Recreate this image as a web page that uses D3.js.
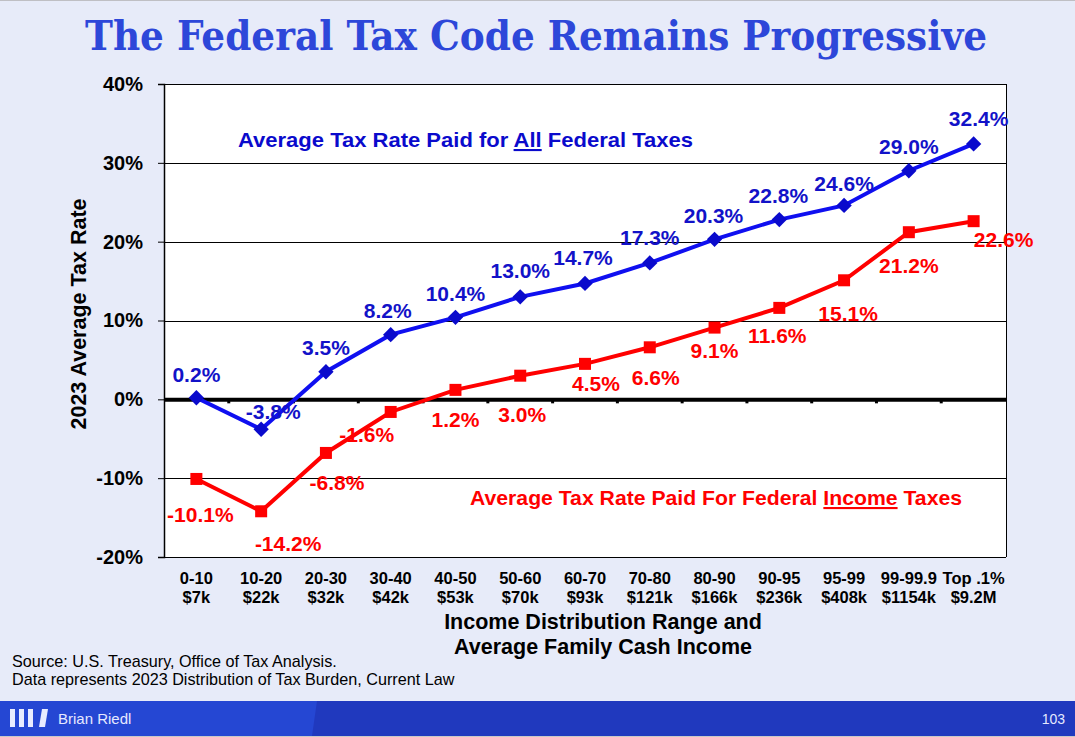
<!DOCTYPE html>
<html><head><meta charset="utf-8">
<script src="https://cdn.jsdelivr.net/npm/d3@7"></script>
<style>
html,body{margin:0;padding:0;background:#E7EBF9;}
svg{display:block;font-family:"Liberation Sans",Arial,sans-serif;}
</style></head>
<body>
<script>
// ---- data ----
const categories = ["0-10","10-20","20-30","30-40","40-50","50-60","60-70","70-80","80-90","90-95","95-99","99-99.9","Top .1%"];
const incomes = ["$7k","$22k","$32k","$42k","$53k","$70k","$93k","$121k","$166k","$236k","$408k","$1154k","$9.2M"];
const allFederalRates = [0.2,-3.8,3.5,8.2,10.4,13.0,14.7,17.3,20.3,22.8,24.6,29.0,32.4];
const incomeTaxRates = [-10.1,-14.2,-6.8,-1.6,1.2,3.0,4.5,6.6,9.1,11.6,15.1,21.2,22.6];
const yTicks = [-20,-10,0,10,20,30,40];

// ---- layout (label nudges, in px) ----
const blueNudge = [[0,-23],[12,-18],[0,-24],[-3,-24],[0,-24],[0,-26],[-2,-26],[0,-25],[-1,-24],[-1,-24],[0,-22],[0,-24],[5,-25]];
const redNudge = [[4,36],[27,32],[11,30],[-24,23],[0,30],[2,39],[11,20],[6,30],[0,23],[-2,28],[4,33],[0,33],[30,18]];

const W=1075,H=737;
const px0=164,px1=1006,py0=84,py1=557;
const svg=d3.select("body").append("svg").attr("width",W).attr("height",H);

svg.append("rect").attr("width",W).attr("height",H).attr("fill","#E7EBF9");
svg.append("line").attr("x1",0).attr("x2",W).attr("y1",0.5).attr("y2",0.5).attr("stroke","#bfbfc4");

// title
svg.append("text").attr("x",536).attr("y",50).attr("text-anchor","middle")
  .attr("textLength",902).attr("lengthAdjust","spacingAndGlyphs")
  .style("font-family","'DejaVu Serif Condensed','DejaVu Serif',serif").style("font-stretch","condensed")
  .style("font-weight","bold").style("font-size","41px").attr("fill","#2D47D9")
  .text("The Federal Tax Code Remains Progressive");

const x=d3.scaleBand().domain(categories).range([px0,px1]).padding(0);
const y=d3.scaleLinear().domain([-20,40]).range([py1,py0]);
const cx=d=>x(d)+x.bandwidth()/2;

// plot area
svg.append("rect").attr("x",px0).attr("y",py0).attr("width",px1-px0).attr("height",py1-py0).attr("fill","#fff");

// grid
svg.append("g").selectAll("line").data(yTicks.filter(t=>t!==0)).join("line")
  .attr("x1",px0).attr("x2",px1).attr("y1",d=>Math.round(y(d))+0.5).attr("y2",d=>Math.round(y(d))+0.5)
  .attr("stroke","#000").attr("stroke-width",1);
svg.append("line").attr("x1",px1+0.5).attr("x2",px1+0.5).attr("y1",py0).attr("y2",py1).attr("stroke","#000");

// y axis
const yAxis=svg.append("g").attr("transform",`translate(${px0},0)`)
  .call(d3.axisLeft(y).tickValues(yTicks).tickSize(6).tickPadding(15).tickFormat(d=>d+"%"));
yAxis.select(".domain").attr("stroke","#000").attr("stroke-width",1.5);
yAxis.selectAll(".tick line").attr("stroke","#000");
yAxis.selectAll(".tick text").attr("fill","#000").style("font-size","20px").style("font-weight","bold").style("font-family","'Liberation Sans',Arial,sans-serif");

// zero line axis
const xAxis=svg.append("g").attr("transform",`translate(0,${y(0)})`)
  .call(d3.axisBottom(x).tickValues([]).tickSizeOuter(0));
xAxis.select(".domain").attr("stroke","#000").attr("stroke-width",4);
svg.append("g").selectAll("line").data(categories.slice(1)).join("line")
  .attr("x1",d=>x(d)).attr("x2",d=>x(d)).attr("y1",y(0)).attr("y2",y(0)+4)
  .attr("stroke","#000").attr("stroke-width",3);

// category labels
const cl=svg.append("g").style("font-size","16.5px").style("font-weight","bold").attr("text-anchor","middle");
cl.selectAll("text.c").data(categories).join("text").attr("class","c").attr("x",d=>cx(d)).attr("y",584).text(d=>d);
cl.selectAll("text.i").data(incomes).join("text").attr("class","i").attr("x",(d,i)=>cx(categories[i])).attr("y",603).text(d=>d);

// axis titles
svg.append("text").attr("x",603).attr("y",629).attr("text-anchor","middle").style("font-size","21.5px").style("font-weight","bold").text("Income Distribution Range and");
svg.append("text").attr("x",603).attr("y",654).attr("text-anchor","middle").style("font-size","21.5px").style("font-weight","bold").text("Average Family Cash Income");
svg.append("text").attr("transform","translate(86,314) rotate(-90)").attr("text-anchor","middle").style("font-size","21.5px").style("font-weight","bold").text("2023 Average Tax Rate");

// lines
const line=d3.line().x((d,i)=>cx(categories[i])).y(d=>y(d));
svg.append("path").datum(allFederalRates).attr("d",line).attr("fill","none").attr("stroke","#0F0FF0").attr("stroke-width",4);
svg.append("path").datum(incomeTaxRates).attr("d",line).attr("fill","none").attr("stroke","#FF0000").attr("stroke-width",4);

// markers
svg.append("g").selectAll("path").data(allFederalRates).join("path")
  .attr("d",d3.symbol(d3.symbolDiamond2,150))
  .attr("transform",(d,i)=>`translate(${cx(categories[i])},${y(d)})`)
  .attr("fill","#0A0ACC");
svg.append("g").selectAll("rect").data(incomeTaxRates).join("rect")
  .attr("x",(d,i)=>cx(categories[i])-6).attr("y",d=>y(d)-6).attr("width",12).attr("height",12).attr("fill","#FF0000");

// data labels
const fmt=d=>d.toFixed(1)+"%";
svg.append("g").selectAll("text").data(allFederalRates).join("text")
  .attr("x",(d,i)=>cx(categories[i])+blueNudge[i][0]).attr("y",(d,i)=>y(d)+blueNudge[i][1]+7.5)
  .attr("text-anchor","middle").style("font-size","21px").style("font-weight","bold").attr("fill","#1212C8").text(fmt);
svg.append("g").selectAll("text").data(incomeTaxRates).join("text")
  .attr("x",(d,i)=>cx(categories[i])+redNudge[i][0]).attr("y",(d,i)=>y(d)+redNudge[i][1]+7.5)
  .attr("text-anchor","middle").style("font-size","21px").style("font-weight","bold").attr("fill","#FF0000").text(fmt);

// legends
const lb=svg.append("text").attr("x",238).attr("y",147).attr("textLength",455).attr("lengthAdjust","spacingAndGlyphs")
  .style("font-size","21px").style("font-weight","bold").attr("fill","#0A0ACC");
lb.append("tspan").text("Average Tax Rate Paid for ");
lb.append("tspan").style("text-decoration","underline").text("All");
lb.append("tspan").text(" Federal Taxes");
const lr=svg.append("text").attr("x",470).attr("y",505).attr("textLength",492).attr("lengthAdjust","spacingAndGlyphs")
  .style("font-size","21px").style("font-weight","bold").attr("fill","#FF0000");
lr.append("tspan").text("Average Tax Rate Paid For Federal ");
lr.append("tspan").style("text-decoration","underline").text("Income");
lr.append("tspan").text(" Taxes");

// source
svg.append("text").attr("x",12).attr("y",667).style("font-size","16.2px").attr("fill","#000").text("Source: U.S. Treasury, Office of Tax Analysis.");
svg.append("text").attr("x",12).attr("y",685).style("font-size","16.2px").attr("fill","#000").text("Data represents 2023 Distribution of Tax Burden, Current Law");

// footer
svg.append("rect").attr("x",0).attr("y",701).attr("width",W).attr("height",35).attr("fill","#2039BE");
svg.append("path").attr("d","M0,701L317,701L312,736L0,736Z").attr("fill","#2547D3");
svg.append("line").attr("x1",0).attr("x2",W).attr("y1",736.5).attr("y2",736.5).attr("stroke","#c8c8c8");
[10,19,28].forEach(bx=>svg.append("rect").attr("x",bx).attr("y",709).attr("width",5).attr("height",18).attr("fill","#E8ECFF"));
svg.append("path").attr("d","M42,709L48,709L45,727L39,727Z").attr("fill","#E8ECFF");
svg.append("text").attr("x",58).attr("y",724).style("font-size","15px").style("font-family","'Liberation Sans Narrow','Liberation Sans',Arial,sans-serif").attr("fill","#E6E9FF").text("Brian Riedl");
svg.append("text").attr("x",1065).attr("y",724).attr("text-anchor","end").style("font-size","14px").style("font-family","'Liberation Sans Narrow','Liberation Sans',Arial,sans-serif").attr("fill","#E6E9FF").text("103");
</script>
</body></html>
